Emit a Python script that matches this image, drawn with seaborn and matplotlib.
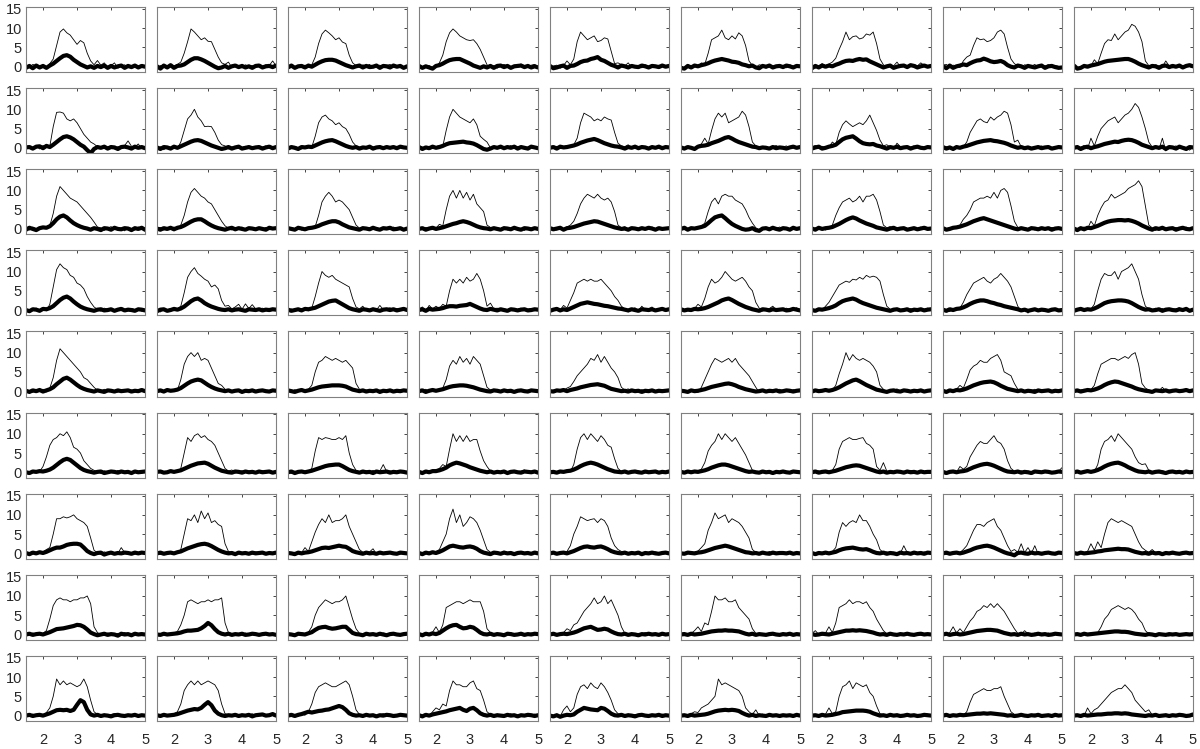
import numpy as np
import matplotlib
matplotlib.use("Agg")
import matplotlib.pyplot as plt
import seaborn as sns

# samples run from x = 1.5 to x = 5.0 (step 0.1)
X_START, X_END = 1.5, 5.0

# thin trace, one list per panel, 9 panels per row
THIN_R1 = [
    [0.3, -0.3, 0.6, 0.2, -0.2, 0.4, -0.3, 0.8, 2.0, 5.5, 9.0, 9.8, 8.8, 8.2, 7.0, 5.8, 6.8, 6.2, 3.5, 1.5, 0.5, 1.6, 0.4, 1.0, -0.2, 0.3, 1.0, -0.4, 0.2, 0.5, -0.3, 0.2, 0.6, -0.2, 0.3, 0.1],
    [-0.4, 0.3, 0.1, -0.5, 0.5, 0.2, 0.6, 1.2, 3.5, 6.5, 9.8, 9.0, 8.0, 7.0, 7.5, 6.6, 6.5, 4.5, 2.5, 1.0, 0.6, 1.2, -0.2, 0.4, 0.2, -0.3, 0.5, 0.1, 0.3, -0.2, 0.4, 0.0, 0.5, 0.3, 1.5, 0.2],
    [0.2, 0.5, -0.3, 0.3, 0.0, 0.4, -0.2, 0.5, 2.5, 6.0, 8.5, 9.5, 8.8, 8.0, 7.0, 7.5, 6.4, 6.0, 3.0, 1.0, 0.3, -0.2, 0.5, 0.2, 0.6, -0.3, 0.2, 0.4, -0.1, 0.3, 0.6, -0.2, 0.2, 0.4, -0.3, 0.2],
    [0.5, -0.4, 0.2, 0.3, -0.3, 0.1, 1.0, 3.0, 6.5, 8.8, 9.8, 9.0, 8.0, 7.5, 7.0, 6.8, 7.0, 6.0, 4.5, 2.5, 0.5, -0.2, 0.3, -0.4, 0.2, 0.6, 0.1, -0.2, 0.4, 0.3, 0.7, 0.2, -0.2, 0.4, 0.6, -0.1],
    [-0.3, 0.2, 0.4, -0.4, 0.3, 1.5, 0.5, 2.0, 6.5, 9.0, 8.0, 7.0, 7.5, 8.0, 6.5, 6.8, 7.5, 7.2, 4.0, 0.8, 1.0, 0.5, 0.2, 1.0, -0.2, 0.3, 0.2, -0.3, 0.5, 0.1, 0.3, -0.2, 0.4, 0.2, -0.1, 0.3],
    [0.2, -0.5, 0.6, -0.3, 0.3, 0.0, 1.0, 0.6, 3.5, 7.0, 7.5, 8.0, 9.5, 7.5, 7.0, 8.0, 7.2, 8.8, 8.0, 5.5, 1.5, 0.3, -0.2, 0.5, 0.3, -0.4, 0.2, 0.1, 0.4, -0.2, 0.3, -0.3, 0.5, 0.0, 0.3, 0.2],
    [0.4, -0.4, 0.2, 0.8, 0.3, 0.7, 1.2, 2.2, 4.5, 6.5, 9.0, 7.0, 7.8, 8.0, 7.2, 7.5, 8.5, 8.2, 9.0, 6.0, 2.0, 0.5, -0.3, 0.4, 0.2, 1.2, 0.0, 0.3, -0.2, 0.4, 0.6, 0.2, 1.0, 0.3, -0.3, 0.2],
    [0.3, 0.6, -0.3, 0.4, 0.2, -0.2, 1.5, 2.5, 3.0, 5.5, 7.5, 7.0, 7.2, 6.5, 6.8, 7.5, 9.0, 9.5, 8.5, 5.0, 2.0, 0.8, 0.2, -0.3, 0.5, 0.3, 0.1, 0.6, -0.2, 0.3, 0.2, 0.5, -0.2, 0.3, 0.1, -0.3],
    [0.5, -0.6, -0.2, 0.3, 0.4, 0.2, 1.8, 0.8, 3.5, 6.0, 7.0, 6.8, 8.5, 7.0, 8.0, 9.0, 9.5, 11.0, 10.5, 9.0, 6.5, 1.5, 0.3, -0.2, 0.5, 0.2, 0.0, 1.5, 0.2, -0.3, 0.3, 0.5, -0.2, 0.4, 0.2, 0.6],
]
THIN_R2 = [
    [0.2, 0.3, -0.2, 0.5, -0.3, 0.6, 0.1, 0.4, 5.5, 9.2, 9.3, 9.0, 7.5, 7.0, 7.5, 6.5, 5.0, 3.5, 2.5, 1.5, 1.0, 0.3, -0.2, 0.4, 0.2, 0.5, -0.3, 0.3, 0.1, 0.6, 1.8, 0.4, 0.2, 1.0, -0.2, 0.3],
    [-0.2, 0.3, -0.5, 0.2, 0.1, 0.4, -0.2, 1.5, 4.5, 7.5, 8.5, 10.0, 8.0, 7.0, 5.5, 5.6, 5.5, 4.0, 2.0, 0.8, 0.5, -0.3, 0.2, 0.3, -0.2, 0.1, 0.4, -0.1, 0.3, 0.2, -0.3, 0.2, 0.5, -0.1, 0.3, 0.2],
    [0.3, -0.2, 0.4, 0.0, -0.3, 0.3, 0.5, 0.2, 3.0, 6.5, 8.0, 8.5, 7.5, 7.0, 6.0, 6.5, 5.5, 5.0, 3.5, 1.5, 0.5, 0.2, -0.3, 0.4, 0.1, 0.3, -0.2, 0.5, 0.0, 0.3, 0.2, -0.2, 0.4, 0.1, 0.3, -0.1],
    [0.5, 0.2, -0.3, 0.4, -0.2, 0.3, 0.6, 0.4, 4.5, 8.0, 10.0, 9.0, 8.0, 7.5, 7.0, 6.5, 7.5, 6.0, 3.0, 2.2, 1.5, 0.0, 0.4, -0.3, 0.5, 0.2, 0.1, 0.6, -0.2, 0.3, 0.4, -0.4, 0.2, 0.5, 0.1, -0.3],
    [0.3, 0.0, 0.4, -0.2, 0.2, 0.6, 0.3, 0.8, 2.5, 6.5, 9.0, 8.5, 8.0, 7.0, 7.5, 7.0, 8.0, 7.5, 7.2, 4.0, 1.2, 0.5, 0.3, 0.8, -0.2, 0.3, 0.1, 0.5, 0.2, -0.1, 0.3, 0.2, -0.2, 0.4, 0.1, 0.3],
    [0.4, -0.2, 0.3, 0.1, -0.4, 0.6, 1.0, 2.5, 1.0, 4.5, 7.5, 9.0, 8.0, 9.0, 6.5, 7.0, 7.5, 8.0, 9.5, 8.5, 5.5, 1.5, 0.5, -0.3, 0.2, 0.4, -0.2, 0.3, 0.6, 0.0, 0.2, 0.5, -0.2, 0.3, 0.1, 0.4],
    [0.3, 0.6, -0.2, 0.4, 0.0, 0.2, 1.5, 0.8, 4.0, 6.0, 7.0, 6.2, 5.5, 6.0, 6.5, 6.0, 7.0, 8.5, 6.5, 4.5, 2.0, 0.5, 0.8, 0.2, -0.3, 1.2, 0.3, -0.1, 0.4, 0.2, 0.5, 0.0, 0.3, -0.2, 0.3, 0.2],
    [-0.3, 0.3, 0.1, -0.2, 0.4, 0.0, 0.3, 1.5, 4.0, 5.5, 7.0, 7.5, 6.8, 6.5, 8.0, 7.2, 8.0, 8.5, 9.5, 9.0, 6.0, 1.5, 2.0, 0.3, -0.2, 0.4, 0.1, -0.3, 0.2, 0.5, 0.0, 0.3, -0.2, 0.2, 0.4, 0.1],
    [0.4, -0.2, 0.2, 0.6, -0.3, 2.5, 0.5, 3.0, 5.0, 6.0, 7.0, 7.5, 8.0, 6.5, 7.5, 8.5, 9.0, 10.0, 11.5, 10.5, 8.0, 5.0, 1.5, 0.2, 0.5, -0.4, 2.5, -0.8, 0.3, 0.2, 0.5, -0.2, 0.3, 0.1, -0.6, 0.2],
]
THIN_R3 = [
    [0.3, -0.3, 0.5, 0.1, -0.2, 0.4, 0.2, 0.8, 4.0, 8.5, 11.0, 10.0, 9.0, 8.0, 7.5, 7.0, 6.0, 5.0, 4.0, 3.0, 1.8, 0.5, 0.3, -0.4, 0.2, 0.6, -0.1, 0.3, 0.2, -0.5, 0.4, 0.1, -0.3, 0.5, 0.2, -0.6],
    [0.2, 0.4, -0.3, 0.3, 0.0, 0.5, -0.2, 1.0, 3.5, 7.0, 9.5, 10.5, 9.5, 8.5, 8.0, 7.0, 6.5, 5.0, 3.5, 2.0, 0.8, 0.2, -0.3, 0.4, 0.1, 0.5, -0.2, 0.2, 0.3, -0.1, 0.3, 0.0, 0.4, -0.2, 0.2, 0.3],
    [-0.2, 0.3, 0.1, 0.5, -0.3, 0.2, 0.4, 0.1, 0.6, 3.5, 7.0, 8.5, 9.5, 8.5, 7.0, 7.5, 7.0, 6.0, 5.0, 3.0, 1.0, 0.2, 0.5, -0.2, 0.3, 0.0, 0.4, -0.3, 0.2, 0.3, -0.2, 0.5, 0.1, 0.2, -0.3, 0.3],
    [0.3, -0.2, 0.4, 0.1, 0.6, 0.2, 1.2, 0.8, 5.0, 8.5, 10.0, 8.0, 10.0, 8.0, 9.5, 7.5, 9.0, 6.5, 5.5, 4.5, 1.0, 0.4, -0.2, 0.3, 0.1, 0.5, -0.3, 0.2, 0.4, 0.0, 0.2, -0.4, 0.3, 0.1, 0.4, -0.2],
    [0.4, 0.0, -0.3, 0.3, 0.1, 0.5, 1.0, 2.0, 4.0, 6.5, 8.0, 9.0, 8.5, 8.0, 9.0, 8.0, 7.5, 8.0, 7.0, 4.5, 1.0, 0.3, 0.6, -0.2, 0.2, 0.4, 0.0, 0.3, -0.1, 0.2, 0.5, 0.1, -0.2, 0.3, 0.2, 0.0],
    [0.2, 0.5, -0.3, 0.3, 0.0, 0.4, 0.8, 1.5, 4.5, 7.0, 8.0, 6.5, 8.5, 9.0, 8.5, 8.5, 7.5, 7.0, 6.5, 5.0, 3.0, 1.5, 0.3, -0.2, 0.4, 0.2, -0.4, 0.3, 0.1, 0.5, 0.0, 0.3, -0.2, 0.4, 0.1, 0.2],
    [-0.2, 0.3, 0.1, 0.4, -0.3, 0.2, 1.0, 3.5, 5.5, 7.0, 7.5, 8.0, 7.0, 7.5, 8.5, 7.0, 8.5, 8.5, 9.0, 7.5, 4.5, 1.0, 0.3, 0.6, -0.2, 0.3, 0.0, 0.4, 0.2, -0.3, 0.3, 0.0, 0.5, -0.2, 0.2, 0.1],
    [0.3, -0.2, 0.4, 0.0, 0.6, 1.0, 2.5, 3.5, 5.0, 7.0, 7.5, 8.0, 8.0, 8.5, 8.0, 9.5, 8.0, 10.0, 10.5, 9.5, 6.0, 2.0, 0.4, -0.2, 0.3, 0.1, 0.5, -0.3, 0.2, 0.0, 0.3, -0.2, 0.4, 0.2, -0.1, 0.3],
    [0.3, -0.4, 0.2, 0.5, 0.0, 2.0, 0.8, 3.5, 5.5, 7.0, 7.5, 9.0, 8.0, 8.5, 9.0, 9.5, 10.5, 11.0, 11.5, 12.5, 11.0, 6.0, 1.0, 0.3, -0.4, 0.2, 0.5, -0.2, 0.1, 0.3, 0.4, -0.1, 0.2, 0.5, 0.0, 0.3],
]
THIN_R4 = [
    [0.3, -0.4, 0.2, 0.5, 0.0, 0.3, -0.2, 1.5, 6.0, 10.5, 12.0, 11.0, 10.5, 9.0, 8.5, 7.0, 6.5, 5.5, 3.5, 2.0, 0.8, 0.2, -0.3, 0.5, 0.1, 0.3, -0.2, 0.4, 0.0, 0.2, -0.2, 0.4, 0.1, 0.3, -0.3, 0.2],
    [0.2, -0.5, 0.3, 0.0, 0.4, -0.2, 0.3, 1.0, 4.5, 8.5, 10.0, 11.0, 9.5, 8.8, 8.0, 7.5, 6.0, 6.5, 5.5, 2.5, 1.0, 1.2, 0.3, 0.8, 1.5, 0.2, 1.6, 0.4, 1.4, 0.3, 0.1, 0.5, -0.2, 0.3, 0.2, 0.0],
    [0.0, 0.3, -0.3, 0.2, 0.4, 0.1, -0.2, 0.5, 3.5, 7.0, 10.0, 9.0, 8.5, 9.0, 8.0, 7.5, 7.0, 6.5, 6.0, 3.0, 0.8, 0.3, 1.0, -0.2, 0.2, 0.5, 0.0, 1.2, 0.1, 0.3, 0.6, -0.1, 0.4, 0.2, 0.5, 0.1],
    [0.2, 0.8, -0.3, 1.2, 0.3, 1.0, 0.4, 1.5, 1.0, 5.0, 8.0, 7.0, 8.0, 7.0, 8.5, 7.5, 8.0, 9.5, 8.0, 5.0, 1.0, 1.8, 0.3, 0.5, -0.2, 0.3, 0.1, 0.4, 0.0, 0.2, 0.5, -0.1, 0.2, 0.4, -0.2, 0.3],
    [0.4, -0.2, 0.3, 0.0, 1.2, 0.5, 2.5, 4.5, 7.0, 7.5, 8.0, 7.5, 8.0, 7.5, 7.5, 8.0, 7.0, 6.0, 5.0, 3.5, 2.5, 1.0, 0.3, -0.5, 0.2, 0.6, -0.2, 1.0, 0.0, 0.3, 0.8, -0.2, 0.3, 0.6, 0.0, 0.4],
    [0.3, -0.3, 0.2, 0.0, 0.4, 1.5, 0.8, 3.0, 6.0, 8.0, 7.0, 7.5, 8.5, 10.0, 9.0, 8.0, 7.5, 8.0, 8.5, 7.5, 6.0, 5.0, 2.0, 0.5, -0.3, 0.2, 0.4, 1.0, 0.0, 0.3, -0.2, 0.5, 0.1, 0.2, 0.6, 0.0],
    [0.2, -0.3, 0.4, 0.0, 1.0, 2.0, 3.5, 5.0, 6.5, 7.0, 7.5, 7.2, 8.0, 7.8, 8.5, 8.0, 9.0, 8.5, 8.8, 8.5, 7.5, 4.0, 1.0, 0.2, -0.3, 0.5, 0.0, 0.3, -0.2, 0.4, 0.1, 0.3, -0.2, 0.2, 0.5, 0.2],
    [0.3, 0.0, -0.4, 0.3, 0.2, 0.5, 2.0, 4.0, 5.5, 7.0, 7.5, 8.0, 8.5, 7.5, 7.0, 8.0, 8.5, 9.5, 8.5, 7.5, 6.0, 3.5, 1.0, -0.3, 0.4, -0.8, 0.3, 0.1, -0.2, 0.4, 0.2, 0.0, -0.3, 0.3, 0.1, -0.2],
    [0.4, -0.2, 0.3, 0.0, 0.5, 0.2, 1.5, 5.0, 8.0, 9.5, 9.0, 9.0, 10.0, 8.0, 10.0, 10.5, 11.0, 12.0, 10.0, 8.0, 4.0, 1.0, 0.3, -0.2, 0.5, 0.0, 0.4, -0.3, 0.2, 0.1, 0.3, 0.6, -0.1, 0.2, 0.0, 0.4],
]
THIN_R5 = [
    [0.4, 0.0, -0.3, 0.3, 0.2, 0.5, -0.2, 0.8, 3.5, 8.0, 11.0, 10.0, 9.0, 8.0, 7.0, 6.0, 5.0, 3.5, 3.0, 2.0, 1.0, 0.2, 0.0, 0.5, -0.2, 0.3, 0.1, -0.3, 0.4, 0.2, 0.0, 0.3, -0.2, 0.4, 0.1, 0.2],
    [0.2, 0.4, -0.2, 0.3, 0.0, 0.5, 0.2, 3.0, 7.0, 9.0, 10.0, 9.0, 10.0, 8.0, 8.5, 8.0, 6.0, 4.0, 2.0, 1.5, 0.5, 0.2, -0.3, 0.4, 0.1, -0.2, 0.3, 0.0, 0.5, 0.2, -0.1, 0.3, 0.2, -0.3, 0.4, 0.1],
    [0.2, -0.3, 0.4, 0.0, 0.3, 0.1, 0.5, 1.5, 5.0, 7.5, 8.0, 9.0, 8.5, 8.0, 8.5, 8.0, 7.5, 8.0, 7.0, 6.0, 2.0, 0.5, -0.2, 0.3, 0.2, 0.4, -0.1, 0.3, 0.1, 0.0, 0.3, 0.2, -0.2, 0.1, 0.4, 0.0],
    [0.3, 0.0, 0.5, -0.2, 0.2, 0.4, 0.1, 0.8, 3.0, 6.5, 8.0, 7.0, 9.0, 7.5, 8.5, 7.0, 9.0, 8.0, 7.0, 4.0, 1.0, 0.3, 0.5, -0.2, 0.1, 0.4, 0.0, -0.3, 0.2, 0.3, 0.1, -0.2, 0.3, 0.2, 0.0, 0.2],
    [-0.2, 0.3, 0.0, 0.4, 0.2, 0.8, 1.2, 2.5, 4.0, 5.0, 6.0, 7.0, 8.5, 8.0, 9.5, 7.5, 9.0, 7.5, 6.0, 5.0, 3.5, 1.0, 0.3, 0.6, -0.2, 0.2, 0.0, 0.4, 0.1, -0.1, 0.3, 0.0, -0.2, 0.4, 0.2, 0.0],
    [0.3, -0.2, 0.0, 0.4, 0.1, -0.3, 1.0, 3.0, 5.0, 7.0, 8.5, 8.0, 7.5, 8.0, 8.5, 7.5, 8.5, 7.0, 6.0, 5.0, 4.0, 2.5, 1.0, -0.3, 0.2, 0.0, -0.4, 0.3, 0.1, 0.5, 0.0, 0.2, -0.3, 0.4, 0.1, 0.0],
    [0.2, 0.4, -0.2, 0.3, 0.0, 0.5, 0.3, 1.5, 4.5, 7.0, 10.0, 8.0, 9.5, 8.5, 8.0, 8.5, 8.0, 7.5, 6.5, 5.0, 1.5, 0.5, -0.2, 0.3, 0.1, 0.6, 0.0, 0.4, -0.3, 0.2, 0.3, 0.0, 0.5, -0.1, 0.2, 0.3],
    [0.3, -0.4, 0.2, 0.0, 0.5, 1.5, 0.8, 3.0, 5.5, 6.5, 7.0, 8.0, 7.5, 7.5, 8.5, 9.0, 9.5, 8.0, 5.0, 4.5, 4.0, 2.0, 0.5, 0.2, -0.3, 0.4, 0.1, 0.5, -0.2, 0.3, 0.0, 0.4, 0.2, -0.1, 0.3, 0.1],
    [0.2, -0.2, 0.3, 0.5, 0.0, 0.4, 1.5, 4.5, 7.0, 7.5, 8.0, 8.5, 8.5, 8.0, 8.5, 9.0, 8.5, 9.5, 10.0, 7.0, 2.0, 0.8, 0.3, -0.2, 0.4, 0.1, 1.0, 0.0, 0.3, 0.2, -0.1, 0.4, 0.1, 0.3, 0.0, 0.5],
]
THIN_R6 = [
    [0.3, -0.2, 0.4, 0.0, 0.2, 1.5, 4.0, 7.0, 8.5, 9.0, 10.0, 9.5, 10.5, 9.0, 6.5, 6.0, 5.0, 3.0, 2.0, 1.0, 0.5, 0.2, -0.3, 0.4, 0.1, 0.3, -0.2, 0.5, 0.0, 0.2, 0.4, -0.1, 0.2, 0.3, -0.2, 0.1],
    [0.4, 0.0, -0.3, 0.2, 0.5, 0.1, 0.3, 1.0, 5.0, 9.0, 8.0, 9.5, 10.0, 9.0, 9.5, 8.5, 8.0, 7.0, 5.0, 3.0, 1.0, 0.3, 0.6, -0.2, 0.2, 0.4, 0.0, 0.3, 0.5, -0.1, 0.2, 0.4, -0.2, 0.3, 0.1, 0.0],
    [0.2, -0.3, 0.3, 0.0, 0.4, -0.1, 0.3, 1.0, 5.5, 9.0, 8.5, 9.0, 8.8, 8.5, 8.5, 9.0, 8.5, 9.5, 5.0, 2.0, 0.5, 0.2, -0.2, 0.4, 0.1, 0.5, 0.0, 0.3, 2.0, 0.2, 0.4, -0.1, 0.3, 0.2, 0.0, 0.3],
    [0.3, 0.0, 0.5, -0.2, 0.2, 0.6, 1.0, 2.0, 1.5, 6.0, 10.0, 8.0, 9.5, 8.0, 9.5, 8.0, 8.5, 8.5, 5.5, 3.0, 1.5, 0.3, -0.2, 0.4, 0.1, 0.3, 0.0, 0.5, -0.1, 0.2, 0.3, 0.6, -0.2, 0.2, 0.4, 0.1],
    [0.2, 0.4, -0.1, 0.3, 0.0, 0.5, 0.2, 2.0, 6.0, 9.0, 10.0, 8.5, 10.0, 9.0, 8.0, 9.5, 8.5, 7.0, 6.5, 3.5, 1.0, 0.2, 0.5, -0.2, 0.3, 0.1, 0.4, 0.0, -0.2, 0.3, 0.1, 0.3, 0.0, 0.4, -0.1, 0.2],
    [0.3, -0.2, 0.2, 0.4, 0.0, 0.3, 0.8, 2.5, 5.5, 7.0, 8.0, 10.0, 8.5, 10.0, 9.0, 8.0, 9.0, 7.5, 6.0, 4.5, 2.5, 0.5, 0.2, -0.2, 0.3, 0.0, 0.4, 0.1, 0.2, -0.3, 0.3, 0.0, 0.2, 0.4, -0.1, 0.2],
    [0.2, 0.0, 0.4, -0.2, 0.3, 0.1, 0.5, 2.0, 6.0, 8.0, 8.5, 9.0, 8.5, 8.5, 8.8, 9.0, 7.5, 7.0, 6.0, 1.5, 0.5, 2.5, 0.3, 0.0, -0.2, 0.4, 0.1, 0.3, 0.0, 0.5, 0.2, -0.2, 0.3, 0.1, 0.4, 0.0],
    [0.3, -0.2, 0.2, 0.5, 0.0, 1.5, 0.8, 1.5, 4.0, 5.5, 7.0, 8.0, 7.5, 7.5, 8.5, 9.5, 8.0, 7.5, 6.0, 3.0, 1.0, 0.3, 0.0, 0.4, -0.2, 0.3, 0.1, 0.5, -0.1, 0.2, 0.4, 0.0, 0.2, -0.2, 0.3, 1.2],
    [0.2, 0.0, -0.3, 0.3, 0.1, 0.4, 0.2, 2.0, 6.0, 8.0, 8.5, 9.5, 8.0, 10.0, 9.0, 8.0, 7.0, 6.0, 4.0, 2.5, 2.0, 2.2, 0.5, 0.0, 0.3, -0.2, 0.4, 0.1, -0.1, 0.3, 0.2, 0.5, 0.0, 0.3, -0.2, 0.1],
]
THIN_R7 = [
    [0.3, 0.0, 0.5, -0.2, 0.2, 0.4, 1.0, 1.5, 5.0, 9.0, 9.0, 9.5, 9.2, 9.5, 10.0, 9.0, 8.5, 8.0, 7.0, 4.0, 0.8, 0.2, -0.3, 0.4, 0.1, 0.3, -0.2, 0.0, 1.5, 0.2, 0.4, 0.0, -0.2, 0.3, 0.1, 0.2],
    [0.2, -0.3, 0.3, 0.0, 0.4, 0.1, 0.3, 1.0, 5.0, 9.0, 8.5, 10.0, 8.0, 11.0, 9.0, 10.5, 8.0, 8.5, 7.5, 7.0, 2.5, 0.5, 0.2, -0.2, 0.4, 0.0, 0.3, 0.1, -0.2, 0.4, 0.1, 0.3, 0.0, 0.2, -0.1, 0.3],
    [0.2, 0.0, 0.3, -0.2, 0.2, 1.5, 0.5, 3.0, 5.5, 7.5, 9.0, 8.0, 10.0, 8.0, 8.5, 8.5, 9.0, 10.0, 7.0, 5.0, 3.0, 1.0, 0.3, 0.0, 0.4, 1.2, -0.2, 0.3, 0.1, 0.2, 0.0, 0.3, 0.1, -0.2, 0.2, 0.1],
    [0.3, -0.2, 0.4, 0.0, 0.2, 0.5, 1.0, 3.0, 5.0, 9.0, 11.5, 8.0, 10.0, 7.0, 8.0, 9.5, 9.0, 8.0, 6.0, 3.5, 1.0, 0.3, -0.2, 0.4, 0.1, 0.6, 0.0, 0.3, -0.1, 0.2, 0.4, 0.0, 0.2, -0.2, 0.3, 0.1],
    [0.2, 0.4, -0.2, 0.3, 0.0, 0.5, 2.0, 5.0, 7.0, 9.5, 9.0, 8.5, 8.8, 9.0, 8.0, 9.0, 8.5, 7.0, 4.0, 2.0, 1.0, 0.5, 0.2, -0.3, 0.4, 0.0, 0.3, 0.1, -0.2, 0.3, 0.0, 0.4, 0.1, 0.2, -0.1, 0.3],
    [0.3, -0.2, 0.5, 0.0, 0.3, 0.6, 1.5, 2.5, 6.0, 8.0, 10.5, 9.0, 9.5, 10.0, 8.0, 9.0, 8.5, 8.0, 7.0, 5.5, 4.0, 1.0, 0.3, -0.2, 0.4, 0.1, 0.5, 0.0, 0.2, -0.2, 0.3, 0.1, 0.4, -0.1, 0.2, 0.0],
    [0.3, 0.0, 0.4, -0.2, 0.2, 0.1, 0.5, 1.5, 5.5, 8.0, 7.0, 8.0, 8.5, 8.0, 10.0, 8.5, 8.5, 7.0, 5.0, 3.5, 1.0, 0.2, 0.4, -0.2, 0.3, 0.1, 0.0, 2.0, 0.2, -0.3, 0.3, 0.1, -0.2, 0.4, 0.0, 0.2],
    [0.2, -0.3, 0.3, 0.0, 0.4, 0.2, 1.0, 2.0, 4.0, 6.0, 7.5, 7.5, 7.0, 8.0, 8.5, 9.0, 7.0, 6.0, 4.0, 2.0, 0.5, 1.0, 0.3, 2.5, 0.2, 1.5, 0.0, 2.0, -0.2, 0.3, 0.1, 0.4, -0.1, 0.3, 0.2, 0.0],
    [0.2, 0.0, 0.3, -0.2, 0.5, 2.5, 0.8, 3.0, 1.5, 5.0, 8.0, 9.0, 8.5, 8.0, 8.5, 8.0, 7.5, 7.0, 5.0, 3.0, 1.5, 0.8, 0.3, 1.0, 0.2, 0.5, 0.0, 0.3, 0.1, -0.2, 0.3, 0.0, 0.2, 0.4, -0.1, 0.2],
]
THIN_R8 = [
    [0.3, -0.2, 0.4, 0.0, 0.2, 0.3, 1.0, 4.0, 7.5, 9.0, 9.5, 9.0, 9.0, 8.5, 9.0, 9.0, 9.5, 9.5, 10.0, 8.0, 2.0, 0.5, 0.0, -0.3, 0.4, 0.2, -0.2, 0.3, 0.1, 0.5, 0.0, 0.3, -0.1, 0.2, 0.4, 0.1],
    [0.2, 0.0, 0.3, -0.2, 0.1, 0.4, 0.8, 2.5, 5.0, 8.5, 9.0, 8.5, 8.0, 8.5, 8.5, 9.0, 8.5, 9.0, 9.0, 9.5, 3.0, 0.5, 0.2, -0.1, 0.3, 0.0, 0.4, -0.2, 0.2, 0.1, 0.3, 0.0, 0.2, -0.1, 0.3, 0.2],
    [0.2, -0.2, 0.3, 0.0, 0.4, 0.2, 0.6, 2.0, 5.0, 7.0, 8.0, 9.0, 8.5, 8.0, 8.5, 8.5, 9.0, 10.0, 7.0, 4.0, 1.5, 0.3, 0.0, 0.5, -0.2, 0.3, 0.1, -0.1, 0.4, 0.2, 0.0, 0.3, -0.2, 0.2, 0.1, 0.3],
    [0.2, -0.3, 0.3, 0.0, 0.6, 2.0, 0.5, 2.5, 7.0, 7.5, 8.0, 8.5, 8.5, 8.0, 8.5, 9.0, 8.5, 8.5, 8.5, 6.0, 1.5, 0.5, 0.0, 0.4, -0.2, 0.3, 0.1, 0.5, -0.3, 0.2, 0.1, 0.3, -0.1, 0.4, 0.0, 0.2],
    [0.2, 0.0, 0.3, -0.2, 0.5, 1.5, 1.0, 2.5, 3.0, 4.5, 6.0, 7.0, 8.0, 9.5, 8.0, 8.5, 10.0, 8.0, 9.0, 7.0, 5.0, 2.0, 0.3, 0.0, 0.4, -0.2, 0.3, 0.1, 0.5, 0.0, 0.2, 0.0, 0.3, -0.1, 0.2, 0.1],
    [0.2, 0.5, -0.2, 0.3, 1.0, 2.0, 0.8, 3.0, 2.5, 6.0, 10.0, 9.0, 9.0, 9.5, 8.5, 8.5, 9.0, 7.0, 6.0, 5.0, 4.0, 1.5, 0.3, -0.2, 0.3, 0.1, 0.4, 0.0, 0.2, -0.1, 0.4, 0.0, 0.2, 0.3, -0.1, 0.2],
    [0.3, 1.0, 0.0, -0.2, 0.4, 2.0, 0.5, 3.0, 7.0, 7.5, 8.0, 9.0, 8.0, 8.5, 8.5, 8.0, 8.5, 7.0, 6.0, 4.0, 2.5, 1.0, 0.2, -0.1, 0.3, 0.0, 0.4, -0.2, 0.2, 0.1, 0.0, 0.3, -0.2, 0.2, 0.1, 0.3],
    [0.3, 0.0, 0.5, 2.0, 0.4, 1.5, 0.5, 2.0, 3.5, 4.5, 6.0, 6.5, 7.5, 7.0, 8.0, 7.0, 8.0, 7.0, 6.0, 4.5, 3.0, 1.5, 0.3, 0.0, 1.0, 0.2, -0.2, 0.4, 0.1, 0.3, 0.0, 0.4, -0.1, 0.2, 0.1, 0.0],
    [0.2, -0.2, 0.3, 0.0, 0.2, 0.4, 0.1, 0.5, 2.0, 4.0, 5.0, 6.5, 7.0, 7.5, 7.0, 6.5, 7.0, 6.5, 5.5, 4.0, 3.0, 1.0, 0.2, -0.3, 0.3, 0.0, 0.2, -0.2, -0.4, 0.3, 0.1, 0.3, -0.2, 0.2, 0.0, 0.2],
]
THIN_R9 = [
    [0.2, 0.0, 0.4, -0.2, 0.3, 0.1, 0.8, 2.0, 5.0, 9.5, 8.0, 9.0, 8.0, 8.5, 8.0, 7.5, 8.0, 9.5, 7.5, 4.0, 1.0, 0.3, -0.1, 0.4, 0.0, 0.3, 0.5, -0.2, 0.2, 0.1, 0.3, 0.0, 0.4, -0.1, 0.2, 0.3],
    [0.3, -0.2, 0.4, 0.0, 0.2, 0.5, 1.0, 3.0, 6.5, 8.0, 9.0, 8.0, 9.0, 8.0, 8.5, 9.0, 8.5, 8.0, 6.5, 3.0, 0.5, 0.2, -0.2, 0.3, 0.1, 0.4, 0.0, 0.2, 0.5, -0.1, 0.2, 0.3, 0.0, 0.4, 0.6, 0.1],
    [0.2, 0.0, 0.3, -0.2, 0.4, 0.1, 1.0, 3.0, 6.0, 7.5, 8.0, 8.5, 8.0, 7.5, 7.5, 8.0, 8.5, 9.0, 8.0, 5.0, 1.5, 0.3, 0.0, 0.4, -0.2, 0.3, 0.1, 0.2, 0.5, 0.0, 0.3, -0.1, 0.2, 0.4, 0.0, 0.2],
    [0.2, 0.0, 0.3, -0.2, 1.0, 2.0, 1.5, 3.0, 2.5, 6.5, 9.0, 8.0, 8.0, 7.5, 7.5, 8.5, 9.0, 7.0, 6.5, 4.0, 1.0, 0.3, -0.1, 0.4, 0.0, 0.3, 0.1, 0.5, -0.2, 0.2, 0.3, 0.0, 0.2, -0.1, 0.4, 0.1],
    [0.3, 0.0, 0.4, -0.2, 1.5, 2.5, 1.0, 2.0, 5.5, 7.5, 8.0, 7.0, 8.5, 7.5, 7.0, 8.5, 7.5, 6.0, 4.0, 1.5, 0.5, 0.2, -0.1, 0.4, 0.0, 0.3, 0.1, 0.5, -0.2, 0.2, 0.0, 0.3, 0.1, 0.4, -0.1, 0.2],
    [0.2, -0.2, 0.3, 0.5, 1.0, 0.8, 2.0, 2.5, 3.0, 4.0, 5.0, 9.5, 8.0, 8.5, 8.0, 7.5, 7.0, 6.5, 5.0, 2.0, 1.0, 0.3, 1.5, 0.0, 0.4, -0.2, 0.3, 0.1, -0.1, 0.2, 0.3, 0.0, 0.2, -0.2, 0.3, 0.1],
    [0.2, 0.0, 0.3, -0.1, 0.4, 2.0, 0.5, 1.0, 5.0, 7.5, 8.0, 9.0, 7.0, 8.5, 8.0, 7.5, 8.0, 6.0, 5.0, 2.5, 0.5, 0.2, -0.2, 0.3, 0.0, 0.4, 0.1, -0.1, 0.3, 0.2, 0.0, 0.3, -0.1, 0.2, 0.4, 0.0],
    [0.2, -0.1, 0.3, 0.0, 0.2, 0.4, 0.1, 1.0, 3.5, 5.5, 6.0, 6.5, 7.0, 6.5, 6.5, 7.0, 7.0, 7.5, 5.0, 3.0, 1.0, 0.3, 0.0, 0.2, -0.2, 0.3, 0.1, 0.4, 0.0, 0.2, 0.3, -0.1, 0.2, 0.1, 0.0, 0.2],
    [0.2, 0.0, 0.3, -0.1, 2.0, 0.5, 1.5, 2.0, 3.0, 4.0, 5.0, 6.0, 6.5, 7.0, 7.0, 8.0, 7.0, 6.0, 4.0, 3.0, 2.0, 1.0, 1.5, 0.2, -0.1, 0.3, 0.0, 0.4, 0.1, -0.2, 0.2, 0.0, 0.3, -0.1, 0.2, 0.4],
]

# thick trace, same layout
THICK_R1 = [
    [-0.3, 0.2, -0.4, 0.3, -0.2, 0.2, -0.3, 0.3, 0.8, 1.5, 2.2, 2.8, 3.0, 2.6, 1.8, 1.2, 0.6, 0.2, -0.2, 0.1, -0.3, 0.2, -0.1, 0.3, -0.3, 0.2, -0.2, 0.1, 0.3, -0.3, 0.2, -0.1, 0.3, -0.2, 0.2, 0.0],
    [0.1, -0.5, 0.3, -0.2, 0.4, -0.3, 0.2, 0.3, 0.6, 1.2, 1.8, 2.2, 2.2, 1.9, 1.5, 1.0, 0.5, 0.0, -0.4, -0.2, 0.2, -0.3, 0.1, 0.3, -0.1, 0.2, -0.2, 0.1, -0.3, 0.2, 0.3, -0.2, 0.1, 0.2, -0.1, 0.3],
    [-0.2, 0.3, -0.3, 0.1, 0.2, -0.2, 0.3, 0.0, 0.5, 1.0, 1.4, 1.7, 1.8, 1.8, 1.6, 1.2, 0.8, 0.4, 0.1, -0.2, 0.1, 0.3, -0.2, 0.2, -0.1, 0.0, 0.3, -0.3, 0.2, 0.1, -0.2, 0.3, 0.0, 0.2, -0.3, 0.1],
    [0.2, -0.3, 0.1, -0.2, -0.5, 0.2, 0.4, 0.8, 1.3, 1.7, 1.9, 2.0, 2.0, 1.6, 1.2, 0.8, 0.3, 0.0, -0.3, 0.1, -0.2, 0.2, -0.3, 0.2, 0.3, -0.1, 0.2, -0.3, 0.1, 0.2, 0.3, -0.1, 0.2, -0.2, 0.1, -0.2],
    [0.2, -0.4, -0.2, 0.1, 0.3, -0.3, 0.2, 0.3, 0.7, 1.2, 1.5, 1.6, 2.0, 2.2, 2.5, 1.8, 1.5, 1.0, 0.5, 0.2, -0.2, 0.3, 0.1, -0.2, 0.2, 0.0, -0.1, 0.3, 0.1, -0.2, 0.2, 0.1, -0.1, 0.3, 0.0, 0.2],
    [-0.3, -0.5, 0.2, -0.2, 0.3, 0.1, 0.4, 0.6, 0.9, 1.3, 1.6, 1.8, 2.0, 1.8, 1.6, 1.3, 1.2, 1.0, 0.6, 0.4, 0.1, 0.3, -0.2, -0.4, 0.2, 0.0, 0.3, -0.2, 0.1, 0.2, -0.1, 0.3, 0.1, -0.2, 0.2, 0.1],
    [-0.4, 0.2, -0.2, 0.3, 0.0, 0.3, 0.1, 0.5, 0.8, 1.2, 1.5, 1.6, 1.5, 1.8, 2.0, 1.8, 1.9, 1.4, 1.0, 0.6, 0.2, -0.2, 0.1, 0.3, -0.3, 0.0, 0.2, 0.3, -0.1, 0.4, 0.2, -0.2, 0.1, 0.3, 0.0, 0.2],
    [0.2, -0.4, 0.3, -0.3, 0.1, 0.3, 0.6, 0.4, 0.9, 1.3, 1.6, 1.7, 2.1, 1.8, 1.4, 1.2, 1.3, 1.5, 1.1, 0.4, 0.0, -0.2, 0.3, 0.1, -0.3, 0.2, 0.0, -0.2, 0.1, 0.3, -0.3, 0.1, 0.2, -0.1, -0.3, -0.2],
    [0.3, -0.5, -0.3, 0.2, 0.0, 0.3, 0.5, 0.7, 1.0, 1.3, 1.5, 1.6, 1.7, 1.8, 1.9, 2.0, 2.0, 1.7, 1.3, 0.8, 0.4, 0.1, -0.2, 0.2, 0.1, -0.3, 0.2, 0.3, -0.1, 0.2, 0.0, 0.3, -0.2, 0.2, 0.4, 0.1],
]
THICK_R2 = [
    [0.1, 0.2, -0.2, 0.3, 0.4, -0.1, 0.5, 0.2, 0.8, 1.5, 2.2, 2.8, 3.0, 2.7, 2.2, 1.5, 0.8, 0.3, -0.6, -1.4, -0.3, 0.2, 0.0, 0.3, -0.2, 0.2, 0.1, -0.3, 0.2, 0.3, 0.1, -0.2, 0.3, 0.0, 0.2, -0.1],
    [0.1, -0.3, 0.2, 0.1, -0.2, 0.3, 0.0, 0.4, 0.8, 1.2, 1.6, 1.9, 2.0, 1.8, 1.4, 1.0, 0.6, 0.3, 0.0, -0.3, -0.1, 0.2, -0.2, 0.1, 0.3, -0.2, 0.0, 0.2, -0.1, 0.1, 0.2, -0.2, 0.1, 0.3, -0.1, 0.2],
    [-0.2, 0.2, 0.0, -0.3, 0.2, 0.1, 0.3, 0.2, 0.6, 1.0, 1.4, 1.7, 1.9, 2.0, 1.7, 1.3, 0.9, 0.5, 0.2, 0.0, 0.2, -0.2, 0.1, 0.0, 0.3, -0.2, 0.1, 0.2, -0.1, 0.2, 0.0, 0.2, -0.1, 0.3, 0.1, 0.0],
    [0.2, -0.3, 0.1, -0.1, 0.3, 0.0, 0.2, 0.5, 0.9, 1.2, 1.3, 1.4, 1.5, 1.6, 1.4, 1.3, 1.1, 0.7, 0.2, -0.3, -0.5, -0.2, 0.2, 0.0, 0.3, -0.1, 0.2, 0.0, 0.3, -0.2, 0.2, 0.0, -0.2, 0.3, 0.1, -0.1],
    [0.0, 0.2, -0.2, 0.3, 0.1, 0.2, 0.4, 0.6, 0.9, 1.3, 1.6, 1.9, 2.1, 2.3, 2.0, 1.6, 1.2, 0.9, 0.6, 0.4, 0.3, 0.1, -0.2, 0.2, 0.0, 0.3, -0.1, 0.2, 0.1, -0.2, 0.2, 0.0, 0.3, -0.1, 0.2, 0.1],
    [0.1, -0.2, 0.2, 0.0, -0.3, 0.3, 0.5, 0.6, 0.8, 1.2, 1.5, 1.8, 2.2, 2.6, 2.8, 2.4, 1.9, 1.5, 1.2, 0.9, 0.6, 0.3, 0.2, -0.1, 0.1, 0.0, -0.2, 0.2, -0.1, 0.1, 0.0, -0.2, 0.1, 0.3, 0.0, 0.2],
    [-0.2, 0.1, 0.3, -0.2, 0.0, 0.3, 0.5, 0.8, 1.5, 2.2, 2.6, 2.8, 3.0, 2.4, 1.7, 1.2, 1.0, 0.9, 1.0, 0.6, 0.4, 0.1, -0.2, 0.2, 0.0, 0.3, -0.1, 0.1, 0.2, -0.2, 0.1, 0.3, 0.0, -0.1, 0.2, 0.1],
    [0.2, -0.2, 0.1, -0.3, 0.2, 0.0, 0.3, 0.5, 0.8, 1.1, 1.4, 1.6, 1.8, 1.9, 2.0, 1.8, 1.7, 1.5, 1.3, 1.0, 0.6, 0.3, 0.0, 0.2, -0.1, 0.1, -0.2, 0.0, 0.2, -0.1, 0.1, 0.2, -0.2, 0.0, 0.2, 0.1],
    [0.0, 0.2, -0.3, 0.1, 0.3, -0.1, 0.2, 0.4, 0.7, 1.0, 1.2, 1.4, 1.6, 1.5, 1.8, 2.0, 2.1, 2.0, 1.7, 1.3, 0.8, 0.5, 0.2, -0.1, 0.2, 0.0, 0.3, -0.3, 0.2, 0.1, -0.2, 0.3, 0.0, -0.3, 0.2, 0.1],
]
THICK_R3 = [
    [-0.2, 0.3, 0.0, -0.3, 0.2, 0.4, 0.3, 0.7, 1.5, 2.5, 3.2, 3.5, 3.0, 2.2, 1.5, 1.0, 0.6, 0.3, 0.1, -0.2, 0.2, 0.0, -0.3, 0.2, 0.1, -0.2, 0.3, 0.0, -0.1, 0.2, 0.1, -0.3, 0.2, 0.0, 0.3, -0.2],
    [0.1, -0.2, 0.2, 0.0, 0.3, -0.1, 0.3, 0.5, 0.9, 1.4, 1.9, 2.3, 2.5, 2.5, 2.0, 1.4, 0.9, 0.5, 0.2, 0.0, -0.2, 0.1, 0.3, -0.1, 0.2, 0.0, -0.2, 0.2, 0.1, -0.1, 0.2, 0.0, -0.2, 0.3, 0.1, 0.2],
    [0.2, 0.0, -0.2, 0.3, 0.1, -0.1, 0.2, 0.3, 0.5, 0.8, 1.2, 1.5, 1.8, 2.0, 2.0, 1.7, 1.2, 0.8, 0.4, 0.2, 0.0, -0.2, 0.2, 0.1, -0.1, 0.3, 0.0, -0.2, 0.2, 0.1, 0.3, -0.1, 0.0, 0.2, -0.2, 0.1],
    [0.0, 0.2, -0.2, 0.1, 0.3, 0.0, 0.2, 0.4, 0.7, 1.0, 1.3, 1.5, 1.8, 2.0, 1.8, 1.5, 1.1, 0.7, 0.4, 0.2, 0.1, -0.1, 0.2, 0.0, -0.2, 0.2, 0.1, -0.1, 0.3, 0.0, -0.2, 0.2, 0.1, -0.1, 0.2, 0.0],
    [0.2, -0.1, 0.1, 0.3, -0.2, 0.2, 0.3, 0.5, 0.8, 1.1, 1.4, 1.6, 1.8, 2.0, 1.9, 1.6, 1.3, 1.0, 0.7, 0.4, 0.2, 0.0, 0.1, -0.2, 0.2, 0.1, -0.1, 0.2, 0.0, 0.3, 0.1, -0.2, 0.2, 0.0, 0.1, 0.2],
    [0.0, 0.3, -0.2, 0.2, 0.1, 0.3, 0.5, 0.8, 1.5, 2.3, 3.0, 3.3, 3.5, 2.8, 2.0, 1.3, 0.8, 0.4, 0.0, -0.2, -0.1, 0.2, -0.3, -0.5, 0.1, 0.2, -0.1, 0.3, 0.0, -0.2, 0.2, 0.1, -0.2, 0.3, 0.0, 0.2],
    [0.1, -0.2, 0.3, 0.0, 0.2, 0.3, 0.5, 0.9, 1.3, 1.8, 2.3, 2.7, 3.0, 2.7, 2.2, 1.8, 1.4, 1.1, 0.8, 0.4, 0.2, 0.0, -0.2, 0.1, 0.3, -0.1, 0.1, 0.2, -0.2, 0.0, 0.2, -0.1, 0.1, 0.3, 0.0, 0.1],
    [0.2, -0.2, 0.0, 0.3, 0.4, 0.6, 0.9, 1.2, 1.6, 2.0, 2.3, 2.6, 2.8, 2.5, 2.2, 1.9, 1.6, 1.3, 1.0, 0.7, 0.4, 0.1, -0.1, 0.2, 0.0, -0.2, 0.2, 0.1, -0.1, 0.2, 0.0, 0.2, -0.2, 0.1, 0.2, 0.0],
    [0.1, -0.3, 0.2, -0.1, 0.3, 0.2, 0.5, 0.8, 1.2, 1.6, 1.9, 2.1, 2.2, 2.3, 2.3, 2.2, 2.3, 2.1, 1.8, 1.4, 0.9, 0.5, 0.1, -0.2, 0.2, 0.0, 0.3, -0.1, 0.1, 0.2, -0.2, 0.1, 0.3, 0.0, -0.1, 0.2],
]
THICK_R4 = [
    [0.0, -0.3, 0.2, 0.1, -0.2, 0.3, 0.2, 0.5, 1.0, 1.8, 2.6, 3.2, 3.5, 3.0, 2.2, 1.5, 0.9, 0.5, 0.2, 0.0, -0.2, 0.1, 0.2, -0.1, 0.0, 0.2, -0.2, 0.1, 0.3, -0.1, 0.1, 0.0, -0.2, 0.2, 0.1, -0.1],
    [-0.3, 0.1, 0.2, -0.2, 0.0, 0.3, 0.1, 0.4, 0.9, 1.6, 2.3, 2.8, 3.0, 2.5, 1.8, 1.3, 0.9, 0.6, 0.3, 0.1, 0.0, 0.2, -0.1, 0.1, 0.2, 0.0, -0.2, 0.2, 0.1, 0.0, 0.2, -0.1, 0.1, 0.0, 0.2, 0.1],
    [0.1, -0.2, 0.0, 0.2, -0.1, 0.3, 0.2, 0.4, 0.6, 1.0, 1.4, 1.8, 2.2, 2.4, 2.5, 2.0, 1.5, 1.0, 0.5, 0.2, 0.0, -0.2, 0.2, 0.1, -0.1, 0.2, 0.0, -0.2, 0.1, 0.2, 0.0, 0.2, -0.1, 0.1, 0.3, 0.0],
    [0.0, 0.2, -0.2, 0.3, 0.1, 0.2, 0.3, 0.5, 0.8, 1.0, 1.0, 0.9, 1.1, 1.2, 1.3, 1.6, 1.2, 0.8, 0.4, 0.1, 0.0, 0.3, 0.1, -0.1, 0.2, 0.0, -0.2, 0.2, 0.1, -0.1, 0.1, 0.2, -0.1, 0.0, 0.2, 0.1],
    [-0.2, 0.1, 0.3, -0.1, 0.2, 0.0, 0.4, 0.8, 1.2, 1.6, 1.8, 2.0, 1.8, 1.6, 1.5, 1.3, 1.1, 1.0, 0.8, 0.6, 0.4, 0.3, 0.1, -0.1, 0.2, 0.0, -0.2, 0.2, 0.1, 0.0, 0.2, -0.1, 0.1, 0.3, 0.0, 0.2],
    [0.2, -0.1, 0.1, 0.0, 0.3, 0.2, 0.3, 0.5, 0.8, 1.2, 1.6, 2.0, 2.5, 2.8, 3.0, 2.6, 2.1, 1.6, 1.2, 0.8, 0.5, 0.2, 0.0, -0.2, 0.2, 0.1, -0.1, 0.2, 0.0, 0.1, 0.2, -0.1, 0.0, 0.3, 0.1, -0.1],
    [0.0, -0.2, 0.2, 0.1, 0.3, 0.5, 0.8, 1.2, 1.8, 2.3, 2.6, 2.8, 3.0, 2.7, 2.2, 1.8, 1.5, 1.2, 0.9, 0.6, 0.4, 0.2, 0.0, -0.2, 0.1, 0.2, -0.1, 0.0, 0.2, -0.2, 0.1, 0.0, 0.2, -0.1, 0.1, 0.2],
    [0.1, -0.2, 0.2, 0.0, 0.3, 0.4, 0.7, 1.1, 1.6, 2.0, 2.3, 2.5, 2.5, 2.3, 2.0, 1.8, 1.5, 1.3, 1.0, 0.8, 0.6, 0.4, 0.2, -0.1, 0.1, -0.2, 0.0, 0.2, -0.1, 0.1, 0.0, -0.2, 0.1, 0.2, -0.1, 0.0],
    [-0.2, 0.1, 0.3, 0.0, 0.2, 0.1, 0.4, 0.8, 1.3, 1.8, 2.1, 2.3, 2.4, 2.5, 2.5, 2.4, 2.2, 1.8, 1.3, 0.8, 0.4, 0.1, 0.2, -0.1, 0.0, 0.2, -0.2, 0.1, 0.2, 0.0, -0.1, 0.2, 0.0, 0.3, -0.2, 0.1],
]
THICK_R5 = [
    [0.1, -0.2, 0.2, 0.0, 0.3, -0.1, 0.2, 0.5, 1.0, 1.8, 2.5, 3.2, 3.5, 3.0, 2.3, 1.6, 1.0, 0.6, 0.3, 0.1, -0.1, 0.2, 0.0, -0.2, 0.2, 0.1, -0.1, 0.2, 0.0, 0.1, 0.2, -0.1, 0.1, 0.0, 0.3, 0.0],
    [0.0, 0.2, -0.1, 0.3, 0.1, 0.2, 0.4, 0.8, 1.4, 2.0, 2.5, 2.8, 3.0, 2.8, 2.2, 1.6, 1.1, 0.7, 0.4, 0.2, 0.0, 0.2, -0.1, 0.1, 0.2, -0.2, 0.1, 0.0, 0.2, -0.1, 0.1, 0.2, 0.0, -0.1, 0.2, 0.1],
    [0.2, 0.0, -0.2, 0.1, 0.3, 0.0, 0.2, 0.4, 0.7, 1.0, 1.2, 1.3, 1.4, 1.5, 1.5, 1.5, 1.4, 1.2, 0.8, 0.4, 0.2, 0.0, 0.2, -0.1, 0.1, 0.0, 0.2, -0.2, 0.1, 0.0, 0.2, -0.1, 0.1, 0.0, 0.2, 0.1],
    [0.0, 0.2, -0.2, 0.1, 0.3, 0.1, 0.3, 0.5, 0.8, 1.1, 1.3, 1.4, 1.5, 1.5, 1.4, 1.2, 1.0, 0.7, 0.4, 0.2, 0.0, -0.1, 0.2, 0.1, -0.1, 0.2, 0.0, 0.1, -0.2, 0.1, 0.2, 0.0, -0.1, 0.2, 0.1, 0.0],
    [0.0, -0.1, 0.2, 0.1, 0.3, 0.0, 0.3, 0.5, 0.7, 1.0, 1.2, 1.4, 1.6, 1.7, 1.8, 1.6, 1.4, 1.0, 0.6, 0.4, 0.2, 0.0, 0.1, -0.1, 0.2, 0.0, 0.1, -0.2, 0.1, 0.0, 0.2, -0.1, 0.1, 0.0, 0.1, 0.2],
    [0.1, 0.0, -0.2, 0.2, 0.0, 0.1, 0.3, 0.5, 0.8, 1.1, 1.3, 1.5, 1.7, 1.9, 2.0, 1.8, 1.5, 1.1, 0.8, 0.5, 0.3, 0.1, -0.1, 0.0, 0.2, -0.1, 0.1, 0.0, 0.2, -0.1, 0.0, 0.2, 0.1, -0.1, 0.1, 0.2],
    [-0.1, 0.2, 0.0, 0.1, 0.3, 0.1, 0.3, 0.6, 1.0, 1.5, 2.0, 2.4, 2.8, 3.0, 2.6, 2.1, 1.6, 1.2, 0.8, 0.4, 0.2, 0.0, -0.2, 0.1, 0.2, 0.0, -0.1, 0.2, 0.1, -0.1, 0.1, 0.0, 0.2, -0.1, 0.1, 0.2],
    [0.1, -0.2, 0.2, 0.0, 0.3, 0.2, 0.4, 0.7, 1.1, 1.5, 1.8, 2.1, 2.3, 2.4, 2.5, 2.3, 1.9, 1.4, 1.0, 0.6, 0.4, 0.2, 0.0, 0.2, -0.1, 0.1, 0.0, -0.2, 0.2, 0.0, 0.1, 0.2, -0.1, 0.1, 0.0, 0.2],
    [0.0, 0.2, -0.1, 0.1, 0.3, 0.2, 0.4, 0.7, 1.1, 1.6, 2.0, 2.3, 2.5, 2.4, 2.1, 1.8, 1.5, 1.2, 0.8, 0.5, 0.3, 0.1, 0.0, -0.2, 0.2, 0.1, 0.0, 0.2, -0.1, 0.1, 0.2, 0.0, 0.1, 0.3, 0.0, 0.2],
]
THICK_R6 = [
    [0.0, -0.2, 0.2, 0.1, 0.3, 0.2, 0.4, 0.7, 1.2, 1.9, 2.6, 3.2, 3.5, 3.2, 2.5, 1.8, 1.1, 0.6, 0.3, 0.1, -0.1, 0.1, 0.2, -0.2, 0.0, 0.2, 0.1, -0.1, 0.2, 0.0, 0.1, -0.2, 0.2, 0.0, 0.1, 0.2],
    [0.1, 0.2, -0.1, 0.0, 0.3, 0.1, 0.3, 0.5, 0.9, 1.3, 1.7, 2.0, 2.3, 2.4, 2.5, 2.2, 1.7, 1.2, 0.8, 0.4, 0.2, 0.0, -0.1, 0.2, 0.1, -0.1, 0.2, 0.0, 0.1, -0.1, 0.2, 0.0, 0.1, 0.2, -0.1, 0.1],
    [0.0, 0.2, -0.2, 0.1, 0.2, 0.0, 0.2, 0.4, 0.7, 1.0, 1.3, 1.6, 1.8, 1.9, 2.0, 2.0, 1.6, 1.1, 0.6, 0.3, 0.1, -0.1, 0.2, 0.0, 0.1, -0.2, 0.2, 0.0, 0.1, 0.2, -0.1, 0.1, 0.0, 0.2, 0.1, -0.1],
    [0.1, -0.2, 0.2, 0.0, 0.3, 0.3, 0.5, 0.8, 1.2, 1.8, 2.2, 2.5, 2.3, 2.0, 1.7, 1.3, 1.0, 0.7, 0.4, 0.2, 0.0, 0.2, -0.1, 0.1, 0.0, 0.2, -0.2, 0.1, 0.2, 0.0, -0.1, 0.2, 0.1, 0.0, 0.2, -0.1],
    [0.0, 0.1, -0.1, 0.2, 0.1, 0.3, 0.4, 0.7, 1.1, 1.6, 2.0, 2.3, 2.5, 2.3, 2.0, 1.6, 1.2, 0.8, 0.5, 0.2, 0.1, 0.0, 0.2, -0.1, 0.1, 0.2, 0.0, -0.1, 0.2, 0.0, 0.1, 0.2, -0.1, 0.1, 0.0, 0.2],
    [0.1, -0.1, 0.2, 0.0, 0.2, 0.1, 0.3, 0.5, 0.8, 1.2, 1.5, 1.8, 2.0, 2.0, 1.8, 1.5, 1.2, 0.9, 0.6, 0.3, 0.1, 0.2, 0.0, -0.1, 0.2, 0.0, 0.1, -0.2, 0.1, 0.0, 0.2, 0.0, -0.1, 0.2, 0.1, 0.0],
    [0.0, 0.2, -0.1, 0.1, 0.2, 0.0, 0.2, 0.4, 0.7, 1.0, 1.3, 1.5, 1.7, 1.8, 1.7, 1.4, 1.1, 0.8, 0.5, 0.2, 0.0, 0.2, -0.1, 0.1, 0.0, 0.2, 0.1, -0.1, 0.2, 0.0, 0.1, -0.1, 0.2, 0.0, 0.1, 0.1],
    [0.1, -0.2, 0.1, 0.2, 0.0, 0.2, 0.3, 0.5, 0.9, 1.3, 1.6, 1.9, 2.1, 2.2, 2.0, 1.7, 1.3, 0.9, 0.5, 0.2, 0.1, 0.0, 0.2, -0.1, 0.1, 0.0, -0.2, 0.2, 0.1, 0.0, 0.2, 0.1, -0.1, 0.0, 0.2, 0.1],
    [0.0, 0.2, -0.1, 0.1, 0.3, 0.1, 0.3, 0.6, 1.0, 1.5, 1.9, 2.2, 2.4, 2.5, 2.2, 1.8, 1.3, 0.9, 0.5, 0.2, 0.1, 0.0, 0.2, -0.1, 0.1, 0.2, 0.0, -0.2, 0.1, 0.2, 0.0, 0.1, -0.1, 0.2, 0.0, 0.1],
]
THICK_R7 = [
    [0.1, -0.2, 0.2, 0.0, 0.3, 0.1, 0.4, 0.8, 1.2, 1.5, 1.5, 1.8, 2.2, 2.4, 2.5, 2.5, 2.3, 1.5, 0.6, 0.1, -0.2, 0.1, 0.2, -0.3, 0.0, 0.2, -0.1, 0.1, 0.0, 0.2, 0.1, -0.1, 0.2, 0.0, 0.2, 0.1],
    [0.0, 0.2, -0.1, 0.1, 0.2, 0.0, 0.3, 0.5, 0.9, 1.3, 1.6, 1.9, 2.2, 2.4, 2.5, 2.3, 1.9, 1.4, 0.9, 0.5, 0.2, 0.0, 0.1, -0.2, 0.2, 0.0, 0.1, -0.1, 0.2, 0.0, 0.1, 0.2, -0.1, 0.1, 0.0, 0.2],
    [0.1, 0.0, -0.2, 0.2, 0.0, 0.2, 0.3, 0.5, 0.8, 1.1, 1.4, 1.5, 1.4, 1.6, 1.8, 2.0, 1.8, 1.7, 1.2, 0.6, 0.3, 0.1, -0.1, 0.2, 0.0, 0.1, -0.1, 0.2, 0.0, 0.1, 0.2, 0.0, -0.1, 0.2, 0.1, 0.0],
    [0.1, -0.2, 0.2, 0.0, 0.3, 0.1, 0.4, 0.8, 1.3, 1.8, 2.0, 1.8, 1.6, 1.5, 1.7, 1.8, 1.6, 1.2, 0.6, 0.2, 0.0, -0.2, 0.2, 0.1, -0.1, 0.2, 0.0, 0.1, -0.2, 0.1, 0.2, 0.0, 0.1, -0.1, 0.2, 0.0],
    [0.0, 0.2, -0.1, 0.1, 0.2, 0.0, 0.3, 0.6, 1.0, 1.4, 1.7, 1.8, 1.6, 1.5, 1.7, 1.8, 1.5, 1.1, 0.6, 0.3, 0.1, 0.0, 0.2, -0.1, 0.1, 0.0, 0.2, -0.2, 0.1, 0.0, 0.2, 0.0, -0.1, 0.1, 0.2, 0.0],
    [0.0, -0.1, 0.2, 0.1, 0.0, 0.2, 0.3, 0.5, 0.8, 1.1, 1.4, 1.6, 1.8, 2.0, 1.8, 1.5, 1.2, 0.9, 0.6, 0.3, 0.2, 0.0, 0.1, -0.1, 0.2, 0.0, -0.1, 0.2, 0.0, 0.1, 0.1, 0.0, 0.2, -0.1, 0.1, 0.0],
    [0.1, -0.2, 0.1, 0.0, 0.2, 0.0, 0.2, 0.4, 0.8, 1.1, 1.3, 1.4, 1.5, 1.3, 1.1, 1.0, 1.1, 0.8, 0.4, 0.1, 0.0, 0.2, -0.1, 0.1, 0.0, -0.2, 0.2, 0.0, 0.1, -0.1, 0.2, 0.0, 0.1, -0.1, 0.2, 0.1],
    [0.0, 0.2, -0.1, 0.1, 0.2, 0.0, 0.2, 0.5, 0.8, 1.2, 1.5, 1.7, 1.9, 2.0, 1.8, 1.5, 1.1, 0.7, 0.3, 0.0, -0.2, -0.5, 0.1, 0.2, 0.0, -0.1, 0.2, 0.0, 0.1, -0.1, 0.1, 0.2, 0.0, -0.1, 0.2, 0.1],
    [0.1, -0.1, 0.2, 0.0, 0.1, 0.2, 0.3, 0.5, 0.6, 0.8, 0.9, 1.0, 1.1, 1.2, 1.1, 1.1, 1.0, 0.7, 0.4, 0.2, 0.0, 0.1, -0.1, 0.2, 0.0, 0.1, -0.2, 0.1, 0.0, 0.2, 0.0, -0.1, 0.1, 0.2, 0.0, 0.1],
]
THICK_R8 = [
    [0.0, 0.2, -0.1, 0.1, 0.2, 0.0, 0.3, 0.6, 1.0, 1.4, 1.5, 1.6, 1.8, 2.0, 2.2, 2.5, 2.4, 2.0, 1.3, 0.5, 0.1, -0.2, 0.0, 0.2, -0.1, 0.1, 0.0, -0.3, 0.2, 0.0, 0.1, -0.2, 0.2, 0.0, 0.1, 0.0],
    [0.0, -0.1, 0.2, 0.0, 0.1, 0.2, 0.3, 0.5, 0.8, 1.0, 1.0, 1.1, 1.2, 1.6, 2.2, 3.0, 2.4, 1.4, 0.6, 0.2, 0.0, 0.2, -0.1, 0.1, 0.0, 0.2, -0.1, 0.0, 0.2, 0.1, -0.1, 0.1, 0.2, 0.0, 0.1, -0.1],
    [0.1, 0.0, -0.2, 0.2, 0.1, 0.0, 0.3, 0.6, 1.2, 1.7, 1.9, 2.0, 1.7, 1.5, 1.6, 1.8, 2.0, 2.0, 1.2, 0.4, 0.1, 0.0, -0.2, 0.2, 0.0, 0.1, -0.1, 0.2, 0.0, -0.2, 0.1, 0.2, 0.0, -0.1, 0.1, 0.2],
    [0.1, -0.2, 0.2, 0.0, 0.3, 0.1, 0.4, 1.0, 1.6, 2.1, 2.4, 2.5, 2.0, 1.6, 1.7, 2.0, 1.8, 1.2, 0.5, 0.1, 0.0, 0.2, -0.1, 0.1, 0.0, -0.2, 0.2, 0.1, -0.1, 0.0, 0.2, -0.1, 0.1, 0.0, 0.2, 0.1],
    [0.0, 0.2, -0.1, 0.1, 0.2, 0.1, 0.3, 0.5, 0.8, 1.2, 1.6, 1.8, 2.0, 1.6, 1.2, 1.3, 1.5, 1.3, 0.8, 0.4, 0.1, 0.0, 0.2, -0.1, 0.1, 0.0, -0.2, 0.1, 0.0, 0.2, 0.0, 0.1, -0.1, 0.2, 0.0, 0.1],
    [0.0, 0.1, -0.1, 0.2, 0.0, 0.1, 0.2, 0.4, 0.6, 0.8, 0.9, 1.0, 1.0, 1.1, 1.0, 1.0, 0.9, 0.8, 0.5, 0.2, 0.0, 0.2, -0.1, 0.1, 0.0, -0.1, 0.1, 0.2, 0.0, -0.1, 0.1, 0.0, 0.2, -0.1, 0.1, 0.0],
    [0.1, -0.1, 0.0, 0.2, 0.1, 0.0, 0.2, 0.4, 0.6, 0.8, 1.0, 1.0, 1.1, 1.0, 1.1, 1.0, 0.9, 0.7, 0.5, 0.2, 0.0, 0.1, -0.1, 0.2, 0.0, -0.1, 0.1, 0.0, 0.2, 0.0, -0.1, 0.1, 0.2, 0.0, 0.1, 0.0],
    [0.0, 0.2, -0.1, 0.1, 0.2, 0.0, 0.1, 0.3, 0.5, 0.7, 0.9, 1.0, 1.1, 1.2, 1.2, 1.1, 1.0, 0.7, 0.4, 0.2, 0.0, 0.1, -0.1, 0.2, 0.0, 0.1, -0.1, 0.0, 0.2, 0.0, 0.1, -0.1, 0.0, 0.2, 0.1, 0.0],
    [0.0, 0.1, -0.1, 0.2, 0.0, 0.1, 0.2, 0.3, 0.4, 0.5, 0.6, 0.7, 0.8, 0.8, 0.7, 0.7, 0.6, 0.4, 0.2, 0.1, 0.0, -0.1, 0.1, 0.0, -0.2, 0.1, 0.0, -0.1, 0.1, 0.0, 0.1, -0.1, 0.0, 0.1, 0.0, 0.1],
]
THICK_R9 = [
    [0.0, 0.2, -0.1, 0.1, 0.2, 0.0, 0.3, 0.6, 1.0, 1.4, 1.5, 1.4, 1.5, 1.2, 1.5, 2.8, 4.0, 3.5, 1.5, 0.3, 0.0, 0.2, -0.1, 0.1, 0.0, -0.2, 0.1, 0.2, 0.0, -0.1, 0.1, 0.0, 0.2, -0.1, 0.1, 0.0],
    [0.1, -0.1, 0.2, 0.0, 0.1, 0.2, 0.4, 0.7, 1.0, 1.3, 1.5, 1.7, 1.6, 2.0, 2.8, 3.5, 2.7, 1.3, 0.5, 0.1, -0.1, 0.1, 0.0, 0.2, -0.1, 0.1, 0.0, 0.2, -0.2, 0.1, 0.2, 0.3, 0.0, 0.1, 0.4, 0.0],
    [0.0, 0.2, -0.1, 0.2, 0.4, 0.7, 1.0, 0.8, 1.0, 1.2, 1.3, 1.5, 1.6, 1.9, 2.2, 2.5, 2.2, 1.5, 0.6, 0.2, 0.0, 0.1, -0.1, 0.2, 0.0, 0.1, -0.2, 0.1, 0.0, 0.2, 0.1, -0.1, 0.0, 0.2, 0.1, 0.0],
    [0.1, -0.2, 0.2, 0.0, 0.3, 0.5, 0.7, 0.9, 1.1, 1.4, 1.6, 1.8, 2.0, 1.5, 1.2, 1.8, 2.0, 1.4, 0.6, 0.2, 0.0, 0.2, -0.1, 0.1, 0.0, -0.1, 0.2, 0.0, 0.1, -0.2, 0.1, 0.0, 0.2, 0.1, -0.1, 0.1],
    [0.0, -0.2, 0.1, -0.3, 0.0, 0.2, 0.1, 0.3, 1.0, 1.5, 2.0, 1.8, 1.6, 1.5, 1.4, 2.0, 1.8, 1.2, 0.5, 0.1, 0.0, 0.2, -0.1, 0.1, 0.0, -0.2, 0.1, 0.2, 0.0, -0.1, 0.1, 0.0, 0.2, -0.1, 0.1, 0.0],
    [0.0, 0.1, -0.1, 0.2, 0.0, 0.1, 0.2, 0.3, 0.5, 0.8, 1.1, 1.3, 1.4, 1.5, 1.4, 1.5, 1.4, 1.2, 0.7, 0.3, 0.0, 0.2, -0.1, 0.1, 0.0, -0.1, 0.2, 0.0, 0.1, -0.1, 0.1, 0.0, 0.1, -0.1, 0.2, 0.0],
    [0.0, 0.1, -0.1, 0.2, 0.0, 0.1, 0.2, 0.4, 0.6, 0.9, 1.0, 1.1, 1.2, 1.3, 1.3, 1.3, 1.2, 1.0, 0.6, 0.3, 0.0, 0.1, -0.1, 0.2, 0.0, 0.1, -0.1, 0.0, 0.2, 0.0, 0.1, -0.1, 0.0, 0.2, 0.1, 0.0],
    [0.0, 0.2, -0.1, 0.1, 0.0, 0.2, 0.1, 0.2, 0.3, 0.4, 0.5, 0.5, 0.6, 0.5, 0.6, 0.5, 0.4, 0.3, 0.2, 0.0, 0.1, -0.1, 0.0, 0.2, 0.0, -0.1, 0.1, 0.0, 0.2, -0.1, 0.0, 0.1, -0.1, 0.2, 0.0, 0.1],
    [0.0, 0.1, -0.1, 0.2, 0.0, 0.1, 0.2, 0.3, 0.3, 0.4, 0.5, 0.5, 0.6, 0.6, 0.5, 0.6, 0.5, 0.3, 0.2, 0.1, 0.0, -0.1, 0.1, 0.0, 0.2, -0.1, 0.0, 0.1, -0.1, 0.1, 0.0, 0.2, 0.1, -0.1, 0.0, 0.3],
]

X_TICKS = [2, 3, 4, 5]
Y_TICKS = [0, 5, 10, 15]

thin_rows = [THIN_R1, THIN_R2, THIN_R3, THIN_R4, THIN_R5, THIN_R6, THIN_R7, THIN_R8, THIN_R9]
thick_rows = [THICK_R1, THICK_R2, THICK_R3, THICK_R4, THICK_R5, THICK_R6, THICK_R7, THICK_R8, THICK_R9]

sns.set_style("white")
plt.rcParams["font.family"] = ["Liberation Sans", "DejaVu Sans"]

n_rows, n_cols = len(thin_rows), len(thin_rows[0])
fig, axes = plt.subplots(n_rows, n_cols, figsize=(12, 7.49), dpi=100, sharex=True, sharey=True)
fig.subplots_adjust(left=26 / 1200, right=1193 / 1200, top=1 - 7 / 749, bottom=1 - 721 / 749,
                    wspace=0.1, hspace=0.246)

for r in range(n_rows):
    for c in range(n_cols):
        ax = axes[r, c]
        thin = thin_rows[r][c]
        thick = thick_rows[r][c]
        sns.lineplot(x=np.linspace(X_START, X_END, len(thin)), y=thin, ax=ax,
                     color="black", linewidth=0.6)
        sns.lineplot(x=np.linspace(X_START, X_END, len(thick)), y=thick, ax=ax,
                     color="black", linewidth=3.0)
        ax.set_xlim(X_START, X_END)
        ax.set_ylim(-1.4, 15.5)
        ax.set_xticks(X_TICKS)
        ax.set_yticks(Y_TICKS)
        ax.tick_params(direction="in", length=2.5, width=0.6, colors="#262626",
                       top=True, right=True, labelsize=10.5)
        ax.tick_params(axis="x", pad=9)
        ax.tick_params(axis="y", pad=3)
        for sp in ax.spines.values():
            sp.set_color("#808080")
            sp.set_linewidth(0.8)

fig.savefig("out.png", dpi=100)
plt.close(fig)
